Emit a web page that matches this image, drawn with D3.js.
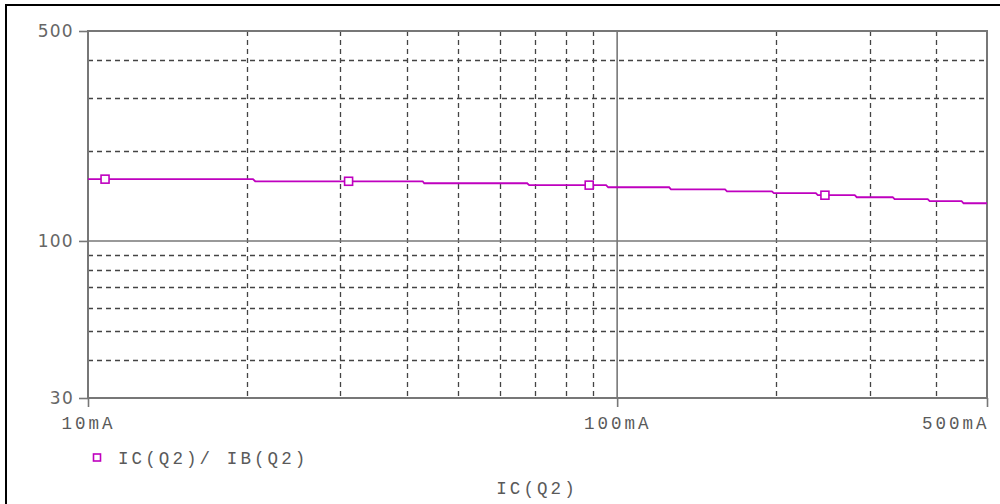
<!DOCTYPE html>
<html><head><meta charset="utf-8">
<script src="https://cdn.jsdelivr.net/npm/d3@7"></script>
<style>body{margin:0;background:#fff}svg{display:block}</style>
</head><body>
<svg id="c" width="1000" height="504"></svg>
<script>
// Data (IC in mA, beta = IC/IB)
const icValues   = [10, 20.5, 20.7, 42.9, 43.2, 67.6, 68.2, 95.3, 96.2, 125.4, 126.4, 159.9, 161.3, 196.1, 197.8, 237.4, 239.5, 281.2, 283.7, 331.7, 334.5, 386.3, 389.6, 447.7, 451.6, 500];
const betaValues = [160.6, 160.6, 158.0, 158.0, 155.6, 155.6, 153.4, 153.4, 150.9, 150.9, 148.6, 148.6, 146.3, 146.3, 144.3, 144.3, 142.0, 142.0, 139.8, 139.8, 137.7, 137.7, 135.6, 135.6, 133.5, 133.5];
const markerIC   = [10.77, 31.08, 88.55, 247.0];
const markerBeta = [160.6, 158.0, 153.4, 142.0];
const xMajorTicks = [10, 100, 500];
const xMajorLabels = ["10mA", "100mA", "500mA"];
const xGrid = [20, 30, 40, 50, 60, 70, 80, 90, 200, 300, 400];
const yMajorTicks = [500, 100, 30];
const yMajorLabels = ["500", "100", "30"];
const yGrid = [40, 50, 60, 70, 80, 90, 200, 300, 400];
const legendLabel = "IC(Q2)/ IB(Q2)";
const xTitle = "IC(Q2)";

const svg = d3.select("#c");
const L = 88, R = 987, T = 31, B = 398;
const x = d3.scaleLog().domain([10, 500]).range([L, R]);
const y = d3.scaleLog().domain([30, 500]).range([B, T]);
const magenta = "#bf00bf";
const axisCol = "#777";
const textCol = "#5a5a5a";
const mono = "'Liberation Mono', 'DejaVu Sans Mono', monospace";

// outer frame
svg.append("rect").attr("x", 6).attr("y", 5).attr("width", 1010).attr("height", 520)
  .attr("fill", "none").attr("stroke", "#000").attr("stroke-width", 2);

// dashed grid
const g = svg.append("g");
g.selectAll(".vg").data(xGrid).join("line")
  .attr("x1", d => Math.round(x(d)) + 0.5).attr("x2", d => Math.round(x(d)) + 0.5)
  .attr("y1", T).attr("y2", B)
  .attr("stroke", "#444").attr("stroke-width", 1.3).attr("stroke-dasharray", "5,4");
g.selectAll(".hg").data(yGrid).join("line")
  .attr("y1", d => Math.round(y(d)) + 0.5).attr("y2", d => Math.round(y(d)) + 0.5)
  .attr("x1", L).attr("x2", R)
  .attr("stroke", "#444").attr("stroke-width", 1.3).attr("stroke-dasharray", "5,4");

// solid decade lines
g.append("line").attr("x1", x(100)).attr("x2", x(100)).attr("y1", T).attr("y2", B)
  .attr("stroke", axisCol).attr("stroke-width", 1.6);
g.append("line").attr("y1", y(100)).attr("y2", y(100)).attr("x1", L).attr("x2", R)
  .attr("stroke", axisCol).attr("stroke-width", 1.6);

// plot border
svg.append("rect").attr("x", L).attr("y", T).attr("width", R - L).attr("height", B - T)
  .attr("fill", "none").attr("stroke", axisCol).attr("stroke-width", 2);

// axes ticks via d3 axis
const yAxis = d3.axisLeft(y).tickValues(yMajorTicks).tickSize(9).tickPadding(5)
  .tickFormat((d, i) => yMajorLabels[i]);
const ya = svg.append("g").attr("transform", `translate(${L},0)`).call(yAxis);
ya.select(".domain").remove();
ya.selectAll(".tick line").attr("stroke", axisCol).attr("stroke-width", 1.6);
ya.selectAll(".tick text").attr("fill", "#666")
  .style("font-family", "'DejaVu Sans', sans-serif").style("font-size", "17px")
  .style("letter-spacing", "1.3px");

const xAxis = d3.axisBottom(x).tickValues(xMajorTicks).tickSize(9).tickPadding(10)
  .tickFormat((d, i) => xMajorLabels[i]);
const xa = svg.append("g").attr("transform", `translate(0,${B})`).call(xAxis);
xa.select(".domain").remove();
xa.selectAll(".tick line").attr("stroke", axisCol).attr("stroke-width", 1.6);
xa.selectAll(".tick text").attr("fill", textCol)
  .style("font-family", mono).style("font-size", "17.5px")
  .style("letter-spacing", "3px");
xa.selectAll(".tick text").filter((d, i) => i === 2).attr("text-anchor", "end").attr("dx", "2px");

// series line
const pts = icValues.map((v, i) => [v, betaValues[i]]);
svg.append("path").datum(pts)
  .attr("d", d3.line().x(d => x(d[0])).y(d => y(d[1])))
  .attr("fill", "none").attr("stroke", magenta).attr("stroke-width", 1.8);

// markers
svg.selectAll(".mk").data(markerIC.map((v, i) => [v, markerBeta[i]])).join("rect")
  .attr("x", d => x(d[0]) - 4).attr("y", d => y(d[1]) - 4)
  .attr("width", 8).attr("height", 8)
  .attr("fill", "#fff").attr("stroke", magenta).attr("stroke-width", 1.6);

// legend
svg.append("rect").attr("x", 93.5).attr("y", 454).attr("width", 7).attr("height", 7)
  .attr("fill", "#fff").attr("stroke", magenta).attr("stroke-width", 1.6);
svg.append("text").attr("x", 118).attr("y", 463.5).text(legendLabel)
  .attr("fill", textCol).style("font-family", mono)
  .style("font-size", "17.5px").style("letter-spacing", "3.1px");

// x title
svg.append("text").attr("x", 537).attr("y", 493.5).attr("text-anchor", "middle").text(xTitle)
  .attr("fill", textCol).style("font-family", mono)
  .style("font-size", "17.5px").style("letter-spacing", "3.1px");
</script>
</body></html>
